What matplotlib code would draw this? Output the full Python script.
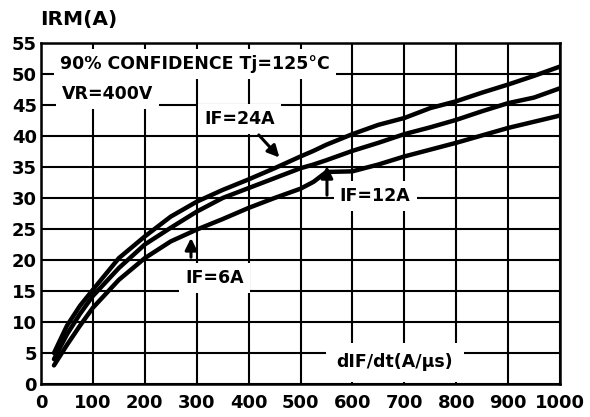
import matplotlib
matplotlib.use("Agg")
import matplotlib.pyplot as plt

# dIF/dt (A/us) sample points
dif_dt = [25, 50, 75, 100, 150, 200, 250, 300, 350, 400, 450, 500, 525, 550,
          600, 650, 700, 750, 800, 850, 900, 950, 1000]

# IRM (A) for each forward current
irm_24a = [5.0, 9.4, 12.6, 15.2, 20.3, 23.8, 27.0, 29.4, 31.3, 33.0, 34.8, 36.7, 37.6, 38.6,
           40.3, 41.8, 42.9, 44.5, 45.6, 47.0, 48.3, 49.7, 51.2]
irm_12a = [4.0, 8.0, 11.3, 14.2, 18.7, 22.5, 25.2, 27.8, 30.0, 31.6, 33.2, 34.8, 35.4, 36.1,
           37.6, 38.9, 40.3, 41.4, 42.6, 44.0, 45.3, 46.2, 47.7]
irm_6a = [3.0, 6.3, 9.4, 12.3, 16.8, 20.3, 23.0, 24.9, 26.6, 28.4, 30.0, 31.5, 32.6, 34.2,
          34.3, 35.4, 36.7, 37.8, 38.9, 40.1, 41.3, 42.3, 43.3]

x_ticks = list(range(0, 1001, 100))
y_ticks = list(range(0, 56, 5))

fig = plt.figure(figsize=(5.9, 4.17), dpi=100)
ax = fig.add_axes([41 / 590, 1 - 384 / 417, 519 / 590, 341 / 417])

for irm in (irm_24a, irm_12a, irm_6a):
    ax.plot(dif_dt, irm, color="black", lw=3.2, solid_capstyle="round",
            solid_joinstyle="round", zorder=3)

ax.set_xlim(0, 1000)
ax.set_ylim(0, 55)
ax.set_xticks(x_ticks)
ax.set_yticks(y_ticks)
ax.grid(True, color="black", lw=1.5, zorder=1)
ax.set_axisbelow(True)
for s in ax.spines.values():
    s.set_linewidth(1.8)
ax.tick_params(length=0, labelsize=13)
ax.tick_params(axis="x", pad=7)
ax.tick_params(axis="y", pad=3)
for lbl in ax.get_xticklabels() + ax.get_yticklabels():
    lbl.set_fontweight("heavy")

box = dict(facecolor="white", edgecolor="none", boxstyle="square,pad=0.35")
fs = 12.5

fig.text(40 / 590, 1 - 20 / 417, "IRM(A)", fontsize=14.5, fontweight="heavy",
         ha="left", va="center")

ax.text(37, 51.6, "90% CONFIDENCE Tj=125°C", fontsize=12.5, fontweight="heavy",
        ha="left", va="center", bbox=box, zorder=4)
ax.text(40, 46.8, "VR=400V", fontsize=12.5, fontweight="heavy",
        ha="left", va="center", bbox=box, zorder=4)

arrow = dict(arrowstyle="-|>,head_length=0.7,head_width=0.35", color="black", lw=2.2)

ax.text(383, 42.7, "IF=24A", fontsize=fs, fontweight="heavy",
        ha="center", va="center", bbox=box, zorder=4)
ax.annotate("", xy=(463, 36.2), xytext=(416, 40.5), arrowprops=arrow, zorder=5)

ax.text(644, 30.3, "IF=12A", fontsize=fs, fontweight="heavy",
        ha="center", va="center", bbox=box, zorder=4)
ax.annotate("", xy=(551, 35.6), xytext=(551, 30.0), arrowprops=arrow, zorder=5)

ax.text(335, 17.1, "IF=6A", fontsize=fs, fontweight="heavy",
        ha="center", va="center", bbox=box, zorder=4)
ax.annotate("", xy=(289, 24.0), xytext=(289, 20.0), arrowprops=arrow, zorder=5)

ax.text(682, 3.5, "dIF/dt(A/μs)", fontsize=fs, fontweight="heavy",
        ha="center", va="center", zorder=4,
        bbox=dict(facecolor="white", edgecolor="none", boxstyle="square,pad=0.6"))

fig.savefig("out.png", dpi=100)
